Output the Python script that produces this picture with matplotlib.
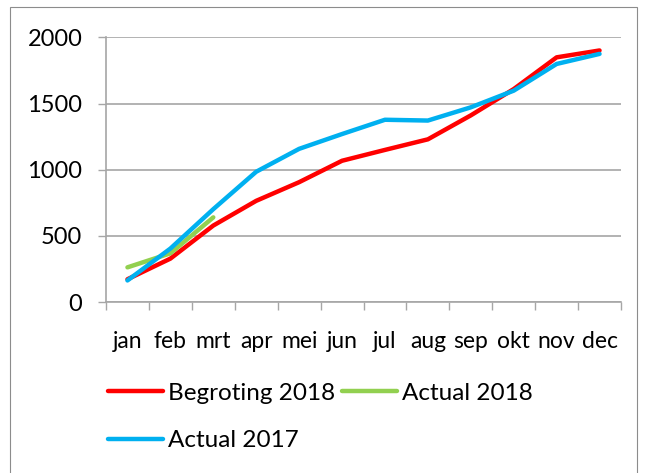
import matplotlib
matplotlib.use("Agg")
import matplotlib.pyplot as plt
from matplotlib.patches import Rectangle

months = ["jan", "feb", "mrt", "apr", "mei", "jun", "jul", "aug", "sep", "okt", "nov", "dec"]
begroting_2018 = [172, 328, 578, 765, 906, 1068, 1150, 1230, 1411, 1610, 1850, 1902]
actual_2018 = [262, 368, 640]
actual_2017 = [163, 404, 702, 985, 1158, 1270, 1378, 1372, 1472, 1598, 1800, 1876]
yticks = [0, 500, 1000, 1500, 2000]

plt.rcParams['font.family'] = ['Lato', 'DejaVu Sans']

W, H = 649, 473
fig = plt.figure(figsize=(W / 100, H / 100), dpi=100)
fig.patch.set_facecolor("white")

# outer chart border
fig.add_artist(Rectangle((10 / W, -0.05), (637 - 10) / W, 1.05 - 7.5 / H,
                         transform=fig.transFigure, fill=False,
                         edgecolor="#8c8c8c", linewidth=0.8))

ax = fig.add_axes([106 / W, 1 - 302 / H, (621 - 106) / W, (302 - 37.5) / H])
x = list(range(len(months)))
gray = "#a6a6a6"

ax.plot(x, begroting_2018, color="#ff0000", lw=3.2, solid_capstyle="round", label="Begroting 2018", zorder=3)
ax.plot(x[:len(actual_2018)], actual_2018, color="#92d050", lw=3.2, solid_capstyle="round", label="Actual 2018", zorder=3)
ax.plot(x, actual_2017, color="#00b0f0", lw=3.2, solid_capstyle="round", label="Actual 2017", zorder=4)

ax.set_ylim(0, 2000)
ax.set_xlim(-0.5, len(months) - 0.5)
ax.set_yticks(yticks)
ax.set_yticklabels([str(v) for v in yticks], fontsize=17)
ax.yaxis.grid(True, color=gray, lw=1.2)
ax.set_axisbelow(True)

ax.set_xticks([i - 0.5 for i in range(len(months) + 1)])
ax.set_xticklabels([])
ax.set_xticks(x, minor=True)
ax.set_xticklabels(months, minor=True, fontsize=16.5)
ax.tick_params(axis="x", which="minor", length=0, pad=21)
ax.tick_params(axis="x", which="major", length=6, color=gray, width=1)
ax.tick_params(axis="y", length=6, color=gray, width=1, pad=11)

for s in ["top", "right"]:
    ax.spines[s].set_visible(False)
for s in ["left", "bottom"]:
    ax.spines[s].set_color(gray)
    ax.spines[s].set_linewidth(1.2)

h, l = ax.get_legend_handles_labels()
order = [0, 2, 1]
leg = fig.legend([h[i] for i in order], [l[i] for i in order], ncol=2,
                 loc="upper left", bbox_to_anchor=(98 / W, 1 - 373 / H),
                 frameon=False, fontsize=17.5, handlelength=2.26,
                 handletextpad=0.2, columnspacing=0.3, labelspacing=1.1,
                 borderaxespad=0)

fig.savefig("out.png", dpi=100, facecolor="white")
